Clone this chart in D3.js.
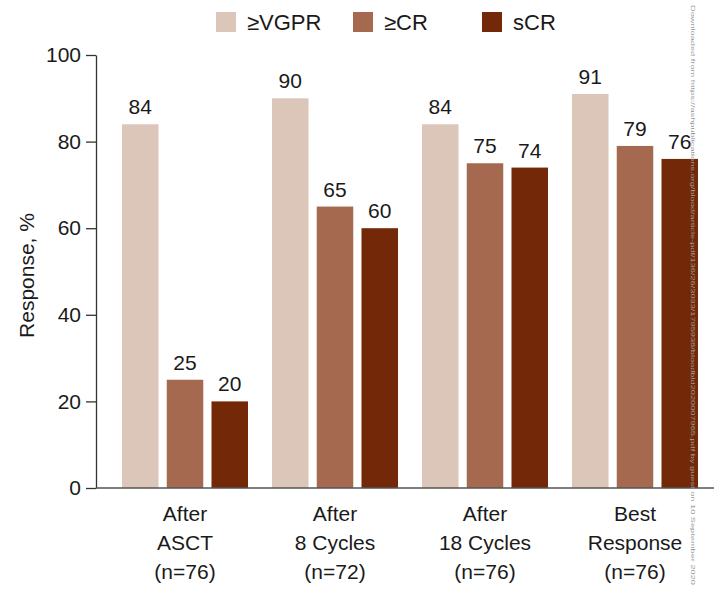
<!DOCTYPE html>
<html>
<head>
<meta charset="utf-8">
<script src="https://cdn.jsdelivr.net/npm/d3@7"></script>
<style>
  html, body { margin: 0; padding: 0; background: #fff; }
  svg { display: block; font-family: "Liberation Sans", Arial, sans-serif; }
</style>
</head>
<body>
<svg id="chart" width="715" height="590"></svg>
<script>
// Response rates by time point
const categories = ["After ASCT", "After 8 Cycles", "After 18 Cycles", "Best Response"];
const categoryLines = [
  ["After", "ASCT", "(n=76)"],
  ["After", "8 Cycles", "(n=72)"],
  ["After", "18 Cycles", "(n=76)"],
  ["Best", "Response", "(n=76)"]
];
const seriesNames = ["≥VGPR", "≥CR", "sCR"];
const vgpr = [84, 90, 84, 91];
const cr = [25, 65, 75, 79];
const scr = [20, 60, 74, 76];
const seriesValues = [vgpr, cr, scr];
const seriesColors = ["#dcc5b9", "#a4694e", "#732908"];
const yTicks = [0, 20, 40, 60, 80, 100];
const yLabel = "Response, %";
const sideNote = "Downloaded from https://ashpublications.org/blood/article-pdf/136/26/3033/1795938/bloodbld2020007965.pdf by guest on 10 September 2020";

const svg = d3.select("#chart");
const fontSize = 21;

const x0 = d3.scaleBand().domain(categories).range([110, 710]).paddingInner(0).paddingOuter(0);
const x1 = d3.scaleBand().domain(seriesNames).range([12, 138]).paddingInner(0.184).paddingOuter(0);
const y = d3.scaleLinear().domain([0, 100]).range([488, 55]);

// bars
const groups = svg.append("g").selectAll("g")
  .data(categories)
  .join("g")
  .attr("transform", d => `translate(${x0(d)},0)`);

groups.each(function(cat, ci) {
  const g = d3.select(this);
  const rows = seriesNames.map((s, si) => ({ s, si, v: seriesValues[si][ci] }));
  g.selectAll("rect")
    .data(rows)
    .join("rect")
    .attr("x", d => x1(d.s))
    .attr("width", x1.bandwidth())
    .attr("y", d => y(d.v))
    .attr("height", d => y(0) - y(d.v))
    .attr("fill", d => seriesColors[d.si]);
  g.selectAll("text")
    .data(rows)
    .join("text")
    .attr("x", d => x1(d.s) + x1.bandwidth() / 2)
    .attr("y", d => y(d.v) - 10)
    .attr("text-anchor", "middle")
    .attr("font-size", fontSize)
    .attr("fill", "#1a1a1a")
    .text(d => d.v);
});

// y axis
const yAxis = svg.append("g")
  .attr("transform", "translate(96,0)")
  .call(d3.axisLeft(y).tickValues(yTicks).tickSize(10).tickSizeOuter(0).tickPadding(5));
yAxis.select(".domain").attr("stroke", "#333").attr("stroke-width", 1.3);
yAxis.selectAll(".tick line").attr("stroke", "#333").attr("stroke-width", 1.3);
yAxis.selectAll(".tick text")
  .attr("font-size", fontSize)
  .attr("font-family", "Liberation Sans, Arial, sans-serif")
  .attr("fill", "#1a1a1a");

// x baseline
svg.append("line")
  .attr("x1", 96).attr("x2", 714)
  .attr("y1", y(0)).attr("y2", y(0))
  .attr("stroke", "#555").attr("stroke-width", 1.3);

// category labels
const xLabels = svg.append("g").selectAll("text")
  .data(categories)
  .join("text")
  .attr("text-anchor", "middle")
  .attr("font-size", fontSize)
  .attr("fill", "#1a1a1a")
  .attr("transform", d => `translate(${x0(d) + x0.bandwidth() / 2},521)`);
xLabels.each(function(d, i) {
  d3.select(this).selectAll("tspan")
    .data(categoryLines[i])
    .join("tspan")
    .attr("x", 0)
    .attr("y", (t, j) => j * 29)
    .text(t => t);
});

// y axis title
svg.append("text")
  .attr("transform", `translate(34,${(y(0) + y(100)) / 2 + 4}) rotate(-90)`)
  .attr("text-anchor", "middle")
  .attr("font-size", fontSize)
  .attr("fill", "#1a1a1a")
  .text(yLabel);

// legend
const legendX = [216, 353, 482];
const legend = svg.append("g").selectAll("g")
  .data(seriesNames)
  .join("g")
  .attr("transform", (d, i) => `translate(${legendX[i]},12)`);
legend.append("rect")
  .attr("width", 20).attr("height", 20)
  .attr("fill", (d, i) => seriesColors[i]);
legend.append("text")
  .attr("x", 31).attr("y", 18)
  .attr("font-size", 22)
  .attr("fill", "#1a1a1a")
  .text(d => d);

// vertical side note
svg.append("text")
  .attr("transform", "translate(691,5) rotate(90)")
  .attr("font-size", 6)
  .attr("fill", "#999")
  .attr("textLength", 580)
  .attr("lengthAdjust", "spacingAndGlyphs")
  .text(sideNote);
</script>
</body>
</html>
